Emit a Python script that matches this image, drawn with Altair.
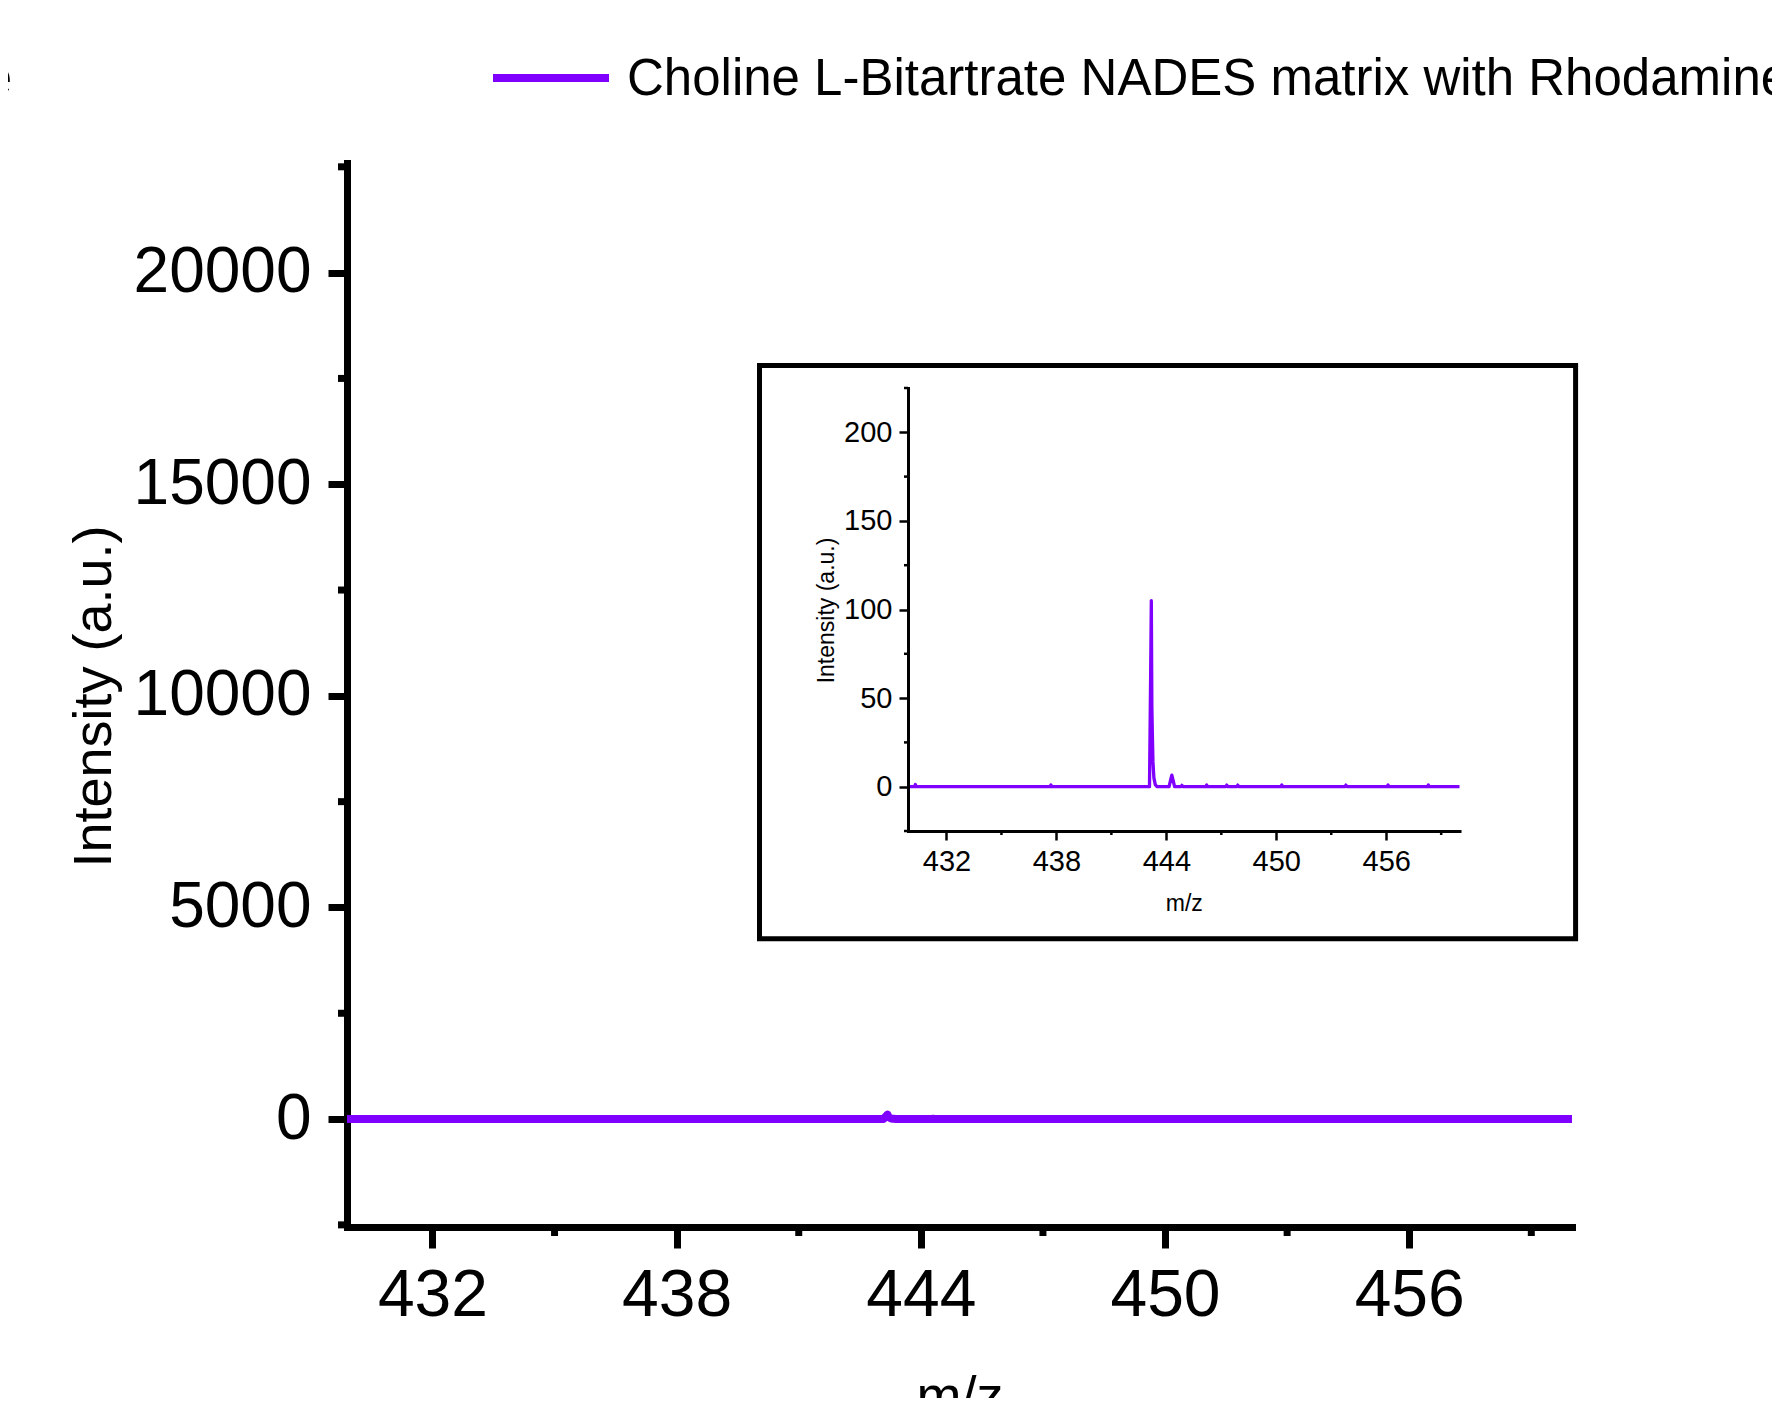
import altair as alt
import pandas as pd

# ---------------- data ----------------
mz = [429.90, 430.25, 430.30, 430.35, 437.65, 437.70, 437.75,
      443.08, 443.14, 443.18, 443.21, 443.24, 443.27, 443.32, 443.40, 443.50,
      444.15, 444.25, 444.30, 444.36, 444.45,
      444.80, 444.85, 444.90, 446.15, 446.20, 446.25, 447.25, 447.30, 447.35,
      447.85, 447.90, 447.95, 450.25, 450.30, 450.35, 453.75, 453.80, 453.85,
      456.05, 456.10, 456.15, 458.25, 458.30, 458.35, 460.00]
intensity = [0.0, 0.0, 1.2, 0.0, 0.0, 1.0, 0.0,
             0.0, 60.0, 105.0, 45.0, 28.0, 14.0, 5.0, 1.0, 0.0,
             0.0, 4.5, 6.5, 4.0, 0.0,
             0.0, 0.8, 0.0, 0.0, 1.0, 0.0, 0.0, 0.9, 0.0,
             0.0, 0.9, 0.0, 0.0, 1.0, 0.0, 0.0, 0.9, 0.0,
             0.0, 1.0, 0.0, 0.0, 1.0, 0.0, 0.0]

x_major = [432, 438, 444, 450, 456]
x_minor = [435, 441, 447, 453, 459]
main_y_major = [0, 5000, 10000, 15000, 20000]
main_y_minor = [-2500, 2500, 7500, 12500, 17500, 22500]
inset_y_major = [0, 50, 100, 150, 200]
inset_y_minor = [-25, 25, 75, 125, 175, 225]
legend_labels = ["Choline L-Bitartrate NADES matrix with Rhodamine", "e"]

PURPLE = "#8000ff"
FONT = "Liberation Sans"

spec = pd.DataFrame({"mz": mz, "intensity": intensity})
one = pd.DataFrame({"k": [0]})

# ---------------- geometry ----------------
W, H = 1225, 1064
X_DOMAIN = [429.9, 460.0]
MAIN_Y_DOMAIN = [-2550, 22590]
INSET_X_RANGE = [561, 1112.5]
INSET_Y_DOMAIN = [-25, 225]
INSET_Y_RANGE = [668, 225]

main_xs = alt.Scale(domain=X_DOMAIN, nice=False, zero=False)
main_ys = alt.Scale(domain=MAIN_Y_DOMAIN, nice=False, zero=False)
inset_xs = alt.Scale(domain=X_DOMAIN, range=INSET_X_RANGE, nice=False, zero=False)
inset_ys = alt.Scale(domain=INSET_Y_DOMAIN, range=INSET_Y_RANGE, nice=False, zero=False)

main_x_enc = alt.X("mz:Q", scale=main_xs, axis=alt.Axis(
    values=x_major, orient="bottom", format="d", grid=False,
    tickSize=21, tickWidth=7, domainWidth=7, domainCap="square",
    labelFontSize=66, labelPadding=15, labelFlush=False, labelOverlap=False,
    labelLimit=500,
    title="m/z", titleFontSize=54, titleFontWeight="normal",
    titleAlign="center", titleBaseline="top", titleX=W / 2, titleY=143))
main_y_enc = alt.Y("intensity:Q", scale=main_ys, axis=alt.Axis(
    values=main_y_major, orient="left", format="d", grid=False,
    tickSize=19, tickWidth=7, domainWidth=7, domainCap="square",
    labelFontSize=64, labelPadding=17, labelFlush=False, labelOverlap=False,
    labelLimit=500,
    title="Intensity (a.u.)", titleFontSize=54, titleFontWeight="normal",
    titleAngle=270, titleAlign="center", titleBaseline="middle",
    titleX=-253, titleY=533))

inset_x_enc = alt.X("mz:Q", scale=inset_xs, axis=alt.Axis(
    values=x_major, orient="bottom", offset=-(H - INSET_Y_RANGE[0]),
    format="d", grid=False, zindex=2,
    tickSize=9, tickWidth=2.5, domainWidth=3, domainCap="square",
    labelFontSize=29, labelPadding=7, labelFlush=False, labelOverlap=False,
    labelLimit=300,
    title="m/z", titleFontSize=23, titleFontWeight="normal",
    titleAlign="center", titleBaseline="middle",
    titleX=836.75, titleY=72))
inset_y_enc = alt.Y("intensity:Q", scale=inset_ys, axis=alt.Axis(
    values=inset_y_major, orient="left", offset=-INSET_X_RANGE[0],
    format="d", grid=False, zindex=2,
    tickSize=9, tickWidth=2.5, domainWidth=3, domainCap="square",
    labelFontSize=29, labelPadding=7, labelFlush=False, labelOverlap=False,
    labelLimit=300,
    title="Intensity (a.u.)", titleFontSize=23, titleFontWeight="normal",
    titleAngle=270, titleAlign="center", titleBaseline="middle",
    titleX=-82, titleY=447))

# ---------------- main panel ----------------
main_line = alt.Chart(spec).mark_line(
    color=PURPLE, strokeWidth=8, strokeJoin="round"
).encode(x=main_x_enc, y=main_y_enc)

main_xminor = alt.Chart(pd.DataFrame({"mz": x_minor, "intensity": [0] * len(x_minor)})).mark_rule(
    color="black", strokeWidth=7
).encode(x=main_x_enc, y=alt.value(H), y2=alt.value(H + 9))

main_yminor = alt.Chart(pd.DataFrame({"intensity": main_y_minor, "mz": [445] * len(main_y_minor)})).mark_rule(
    color="black", strokeWidth=7
).encode(y=main_y_enc, x=alt.value(0), x2=alt.value(-9))

legend_rule = alt.Chart(one).mark_rule(color=PURPLE, strokeWidth=8).encode(
    x=alt.value(146), x2=alt.value(262), y=alt.value(-85)
)
legend_text = alt.Chart(pd.DataFrame({"t": [legend_labels[0]]})).mark_text(
    align="left", baseline="alphabetic", fontSize=51, font=FONT, color="black"
).encode(x=alt.value(280), y=alt.value(-68), text="t:N")
legend_cut = alt.Chart(pd.DataFrame({"t": [legend_labels[1]]})).mark_text(
    align="right", baseline="alphabetic", fontSize=51, font=FONT, color="black"
).encode(x=alt.value(-335), y=alt.value(-68), text="t:N")

main_group = alt.layer(main_line, main_xminor, main_yminor,
                       legend_rule, legend_text, legend_cut)

# ---------------- inset panel ----------------
inset_box = alt.Chart(one).mark_rect(
    fill="white", fillOpacity=0, stroke="black", strokeWidth=5
).encode(
    x=alt.value(412.5), x2=alt.value(1228.6),
    y=alt.value(202.5), y2=alt.value(775.8),
)

inset_line = alt.Chart(spec).mark_line(
    color=PURPLE, strokeWidth=3.3, strokeJoin="round"
).encode(x=inset_x_enc, y=inset_y_enc)

inset_xminor = alt.Chart(pd.DataFrame({"mz": x_minor, "intensity": [0] * len(x_minor)})).mark_rule(
    color="black", strokeWidth=2.5
).encode(x=inset_x_enc, y=alt.value(INSET_Y_RANGE[0]), y2=alt.value(INSET_Y_RANGE[0] + 4))

inset_yminor = alt.Chart(pd.DataFrame({"intensity": inset_y_minor, "mz": [445] * len(inset_y_minor)})).mark_rule(
    color="black", strokeWidth=2.5
).encode(y=inset_y_enc, x=alt.value(INSET_X_RANGE[0]), x2=alt.value(INSET_X_RANGE[0] - 4))

inset_group = alt.layer(inset_box, inset_line, inset_xminor, inset_yminor)

chart = alt.layer(main_group, inset_group).resolve_scale(
    x="independent", y="independent"
).properties(
    width=W, height=H,
    autosize=alt.AutoSizeParams(type="none"),
    padding={"left": 339, "top": 155, "right": 200, "bottom": 171},
    background="white",
).configure_view(strokeWidth=0).configure_axis(
    labelFont=FONT, titleFont=FONT, labelColor="black", titleColor="black",
    domainColor="black", tickColor="black",
).configure_text(font=FONT)

chart.save("out.html", embed_options={"renderer": "svg", "actions": False})
